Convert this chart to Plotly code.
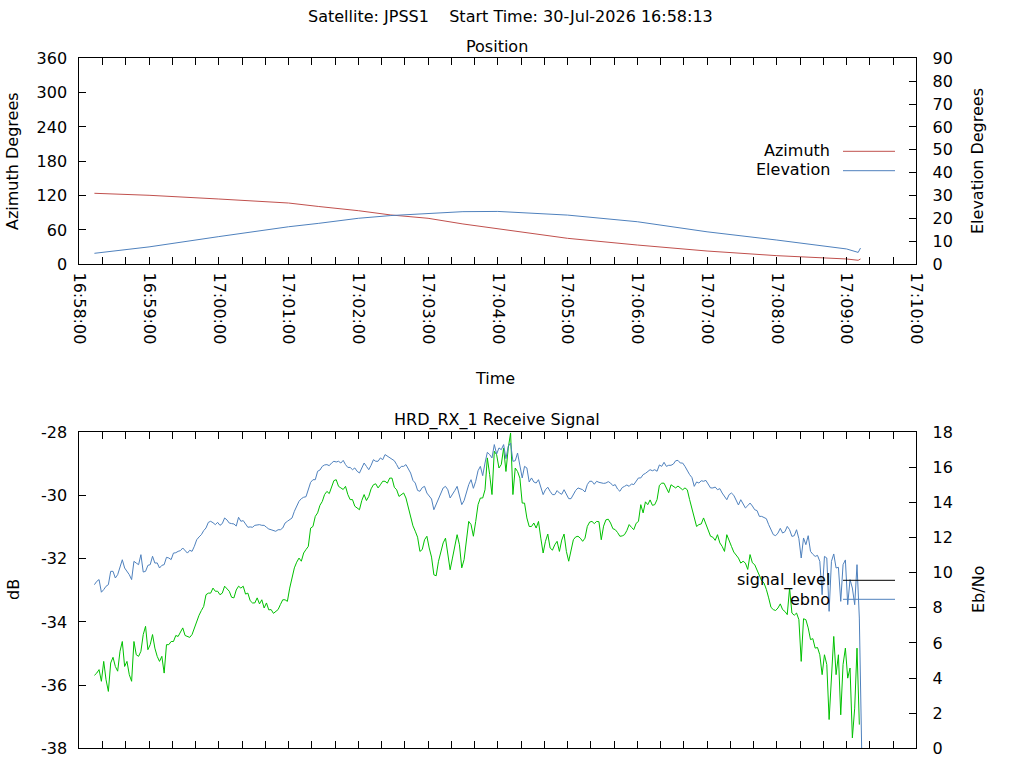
import pandas as pd
import plotly.graph_objects as go

# ---------------- data ----------------
pos_times = ["2026-07-30 16:58:13", "2026-07-30 16:59:00", "2026-07-30 17:00:00",
             "2026-07-30 17:01:00", "2026-07-30 17:01:26", "2026-07-30 17:02:00",
             "2026-07-30 17:02:28", "2026-07-30 17:03:00", "2026-07-30 17:03:30",
             "2026-07-30 17:04:00", "2026-07-30 17:05:00", "2026-07-30 17:06:00",
             "2026-07-30 17:07:00", "2026-07-30 17:08:00", "2026-07-30 17:09:00",
             "2026-07-30 17:09:10", "2026-07-30 17:09:12"]
azimuth = [124.1, 120.6, 114.1, 107.1, 101.0, 93.7, 86.2, 80.4, 70.5,
           61.7, 45.4, 33.7, 23.2, 15.1, 9.3, 7.0, 9.3]
elevation = [4.8, 7.6, 12.1, 16.4, 17.9, 20.1, 21.3, 22.3, 23.0,
             23.1, 21.5, 18.6, 14.2, 10.6, 6.7, 5.2, 7.1]

sig_start = "2026-07-30 16:58:13"
sig_step = "2s"
signal_level = [
    -35.69, -35.62, -35.51, -35.88, -35.25, -35.83, -36.20, -35.30, -35.12, -35.41,
    -35.56, -34.93, -34.62, -35.41, -35.25, -35.67, -35.88, -34.62, -35.04, -35.09,
    -34.93, -34.40, -34.14, -34.88, -34.72, -34.40, -34.83, -35.09, -35.25, -35.09,
    -35.62, -34.72, -34.72, -34.62, -34.62, -34.43, -34.46, -34.32, -34.19, -34.43,
    -34.46, -34.49, -34.40, -34.19, -33.96, -33.79, -33.64, -33.51, -33.14, -33.09,
    -33.09, -32.93, -33.03, -33.03, -33.14, -33.09, -32.87, -32.95, -33.03, -33.22,
    -33.24, -32.99, -32.87, -32.93, -32.87, -33.12, -33.09, -33.33, -33.40, -33.40,
    -33.24, -33.43, -33.30, -33.56, -33.40, -33.62, -33.61, -33.73, -33.67, -33.61,
    -33.45, -33.30, -33.30, -33.35,
    -32.93, -32.61, -32.29, -32.11, -31.98, -32.08, -31.82, -31.71, -31.61, -31.03,
    -30.98, -30.66, -30.55, -30.31, -30.19, -29.97, -29.87, -29.94, -29.76, -29.53,
    -29.50, -29.71, -29.76, -29.81, -29.71, -29.97, -30.13, -30.13, -30.34, -30.40,
    -30.45, -30.16, -29.97, -30.16, -30.03, -29.79, -29.66, -29.63, -29.76, -29.66,
    -29.55, -29.55, -29.61, -29.45, -29.45, -29.74, -29.82, -30.03, -29.97, -29.92,
    -30.08, -30.35, -30.66, -30.96, -31.13, -31.32, -31.77, -31.71, -31.40, -31.29,
    -31.66, -31.95, -32.51, -32.54, -32.08, -31.77, -31.50, -31.35, -31.87, -32.35,
    -31.98, -31.56, -31.24, -31.56, -32.29, -32.03, -31.45, -30.82, -30.92, -31.29,
    -30.82, -30.29, -30.08, -30.08,
    -29.82, -28.81, -29.34, -29.97, -28.60, -28.71, -29.13, -29.02, -28.50, -29.24,
    -28.50, -28.02, -29.97, -29.13, -29.24, -29.45, -30.24, -30.24, -30.71, -30.98,
    -30.98, -30.87, -31.03, -30.82, -31.35, -31.82, -31.45, -31.22, -31.66, -31.73,
    -31.56, -31.45, -31.77, -31.41, -31.22, -31.77, -32.08, -31.71, -31.40, -31.31,
    -31.29, -31.35, -31.45, -31.35, -30.98, -30.84, -30.82, -30.89, -30.82, -30.83,
    -31.40, -30.97, -30.77, -30.75, -30.87, -31.05, -31.08, -31.17, -31.29, -31.28,
    -31.24, -31.11, -30.92, -31.01, -31.08, -30.88, -30.82, -30.29, -30.55, -30.20,
    -30.29, -30.14, -30.31, -30.29, -30.13, -29.68, -29.61, -29.61, -29.76, -29.91,
    -29.66, -29.72, -29.76, -29.70,
    -29.76, -29.82, -29.76, -29.82, -30.13, -30.42, -30.77, -30.98, -30.92, -30.90,
    -30.71, -30.92, -31.08, -31.29, -31.32, -31.42, -31.24, -31.50, -31.61, -31.77,
    -31.24, -31.40, -31.61, -31.79, -31.87, -31.98, -32.14, -32.08, -32.14, -32.34,
    -31.87, -32.13, -32.19, -32.37, -32.56, -32.70, -32.77, -32.97, -33.24, -33.54,
    -33.61, -33.64, -33.56, -33.43, -33.61, -33.67, -33.77, -32.93, -33.72, -33.79,
    -33.72, -33.93, -35.25, -33.90, -33.93, -34.19, -34.56, -34.53, -34.83, -34.81,
    -35.04, -35.67, -35.04, -35.35, -37.09, -35.78, -34.46, -35.67, -35.04, -36.94,
    -35.35, -34.83, -35.78, -35.46, -37.67, -36.73, -34.83, -37.25,
]
ebno = [
    9.32, 9.51, 9.61, 8.89, 9.04, 9.23, 9.32, 10.08, 10.08, 9.70,
    9.89, 10.27, 10.74, 10.27, 10.08, 9.89, 9.61, 10.65, 10.55, 10.46,
    11.03, 10.04, 10.08, 10.42, 10.46, 10.94, 10.55, 10.56, 10.27, 10.42,
    10.46, 10.88, 10.84, 10.75, 11.12, 11.14, 11.22, 11.26, 11.41, 11.26,
    11.12, 11.28, 11.22, 11.51, 11.88, 12.04, 12.17, 12.40, 12.55, 12.87,
    12.93, 12.85, 12.74, 12.87, 12.70, 12.80, 13.12, 13.01, 12.83, 12.80,
    12.78, 12.66, 13.16, 12.93, 12.97, 12.78, 12.59, 12.61, 12.59, 12.70,
    12.74, 12.74, 12.70, 12.70, 12.59, 12.49, 12.45, 12.42, 12.36, 12.45,
    12.45, 12.55, 12.83, 12.93,
    13.02, 13.12, 13.50, 13.75, 14.07, 14.22, 14.30, 14.33, 14.73, 15.15,
    15.30, 15.30, 15.78, 15.85, 16.06, 16.14, 16.16, 16.10, 16.25, 16.35,
    16.31, 16.35, 16.25, 16.40, 16.16, 16.00, 16.00, 15.87, 15.97, 15.78,
    15.68, 15.97, 16.25, 16.06, 15.87, 16.12, 16.44, 16.35, 16.35, 16.54,
    16.44, 16.73, 16.63, 16.54, 16.44, 16.38, 16.16, 15.91, 16.06, 16.06,
    16.16, 15.91, 15.68, 15.26, 15.11, 14.69, 14.64, 14.85, 14.92, 14.54,
    14.35, 14.20, 13.59, 13.88, 14.16, 14.50, 14.83, 14.92, 14.73, 14.26,
    14.45, 14.68, 14.92, 14.31, 13.88, 14.11, 14.54, 15.02, 15.30, 14.81,
    15.21, 15.81, 16.06, 15.53,
    16.25, 16.86, 16.73, 16.54, 17.30, 16.76, 17.11, 17.01, 17.30, 16.50,
    17.20, 17.39, 16.35, 16.38, 16.82, 16.06, 15.40, 16.06, 15.97, 15.17,
    15.40, 15.17, 15.11, 15.30, 14.83, 14.45, 14.73, 14.87, 14.64, 14.45,
    14.45, 14.68, 14.54, 14.47, 14.73, 14.49, 14.22, 14.22, 14.45, 14.69,
    14.83, 14.77, 14.73, 14.60, 15.02, 15.21, 15.21, 15.04, 15.21, 15.15,
    15.11, 15.09, 15.11, 15.19, 15.11, 14.96, 15.02, 14.77, 14.64, 14.85,
    14.92, 15.00, 14.92, 15.06, 15.02, 15.19, 15.40, 15.40, 15.59, 15.66,
    15.78, 15.87, 15.81, 15.87, 15.78, 16.14, 16.06, 16.29, 16.06, 16.12,
    16.12, 16.19, 16.38, 16.40,
    16.25, 16.25, 16.06, 15.81, 15.59, 15.42, 14.92, 15.17, 15.11, 15.24,
    15.21, 15.26, 15.02, 14.83, 14.83, 14.88, 14.73, 14.79, 14.54, 14.37,
    14.16, 14.45, 14.54, 14.41, 14.16, 13.86, 14.16, 13.95, 13.69, 13.82,
    13.97, 13.80, 13.59, 13.54, 13.21, 13.21, 13.12, 13.08, 12.74, 12.45,
    12.17, 12.11, 12.26, 12.53, 12.26, 12.34, 12.64, 12.45, 12.07, 12.11,
    12.45, 11.94, 10.84, 11.98, 11.60, 12.11, 11.22, 11.05, 10.93, 10.99,
    10.65, 8.75, 10.93, 10.84, 7.80, 10.65, 11.07, 10.27, 10.31, 8.37,
    10.46, 10.73, 8.18, 9.61, 9.13, 8.18, 10.46, 7.42, 0.0,
]
sig_times = pd.date_range(sig_start, periods=len(ebno), freq=sig_step)

x_range = ["2026-07-30 16:58:00", "2026-07-30 17:10:00"]
db_ticks = [-38, -36, -34, -32, -30, -28]
db_labels = ["-38", "-36", "-34", "-32", "-30", "-28"]
main_title = "Satellite: JPSS1\u00a0\u00a0\u00a0\u00a0Start Time: 30-Jul-2026 16:58:13"

# ---------------- style ----------------
W, H = 1024, 768
FONT = "DejaVu Sans"
FS = 16
RED = "#c0504d"
BLUE = "#4f81bd"
GREEN = "#00c000"


def px(x):
    return x / W


def py(y):
    return 1 - y / H


L, R = 79.3, 916.3
T1, B1 = 58.3, 264.3
T2, B2 = 432.3, 748.3

fig = go.Figure()
fig.add_trace(go.Scatter(x=pos_times, y=azimuth, mode="lines", line=dict(color=RED, width=1),
                         xaxis="x", yaxis="y", showlegend=False))
fig.add_trace(go.Scatter(x=pos_times, y=elevation, mode="lines", line=dict(color=BLUE, width=1),
                         xaxis="x", yaxis="y2", showlegend=False))
fig.add_trace(go.Scatter(x=sig_times[:len(signal_level)], y=signal_level, mode="lines",
                         line=dict(color=GREEN, width=1),
                         xaxis="x2", yaxis="y3", showlegend=False))
fig.add_trace(go.Scatter(x=sig_times, y=ebno, mode="lines", line=dict(color=BLUE, width=1),
                         xaxis="x2", yaxis="y4", showlegend=False))

common_x = dict(type="date", range=x_range, dtick=60000, tick0=x_range[0],
                ticks="inside", ticklen=7, tickcolor="black", tickwidth=1,
                showline=True, linecolor="black", linewidth=1, mirror="allticks",
                showgrid=False, zeroline=False, automargin=False,
                minor=dict(dtick=20000, tick0=x_range[0], ticks="inside", ticklen=4,
                           tickcolor="black", showgrid=False),
                domain=[px(L), px(R)])
common_y = dict(ticks="inside", ticklen=7, tickcolor="black", tickwidth=1,
                showline=True, linecolor="black", linewidth=1, automargin=False,
                showgrid=False, zeroline=False)

fig.update_layout(
    width=W, height=H, autosize=False,
    margin=dict(l=0, r=0, t=0, b=0, pad=0),
    paper_bgcolor="white", plot_bgcolor="white",
    font=dict(family=FONT, size=FS, color="black"),
    showlegend=False,
    xaxis=dict(common_x, anchor="y", tickformat="%H:%M:%S", tickangle=90,
               ticklabelstandoff=4),
    xaxis2=dict(common_x, anchor="y3", showticklabels=False),
    yaxis=dict(common_y, domain=[py(B1), py(T1)], range=[0, 360], dtick=60, anchor="x",
               ticklabelstandoff=8),
    yaxis2=dict(common_y, range=[0, 90], dtick=10, anchor="x", overlaying="y", side="right",
                ticklabelstandoff=12),
    yaxis3=dict(common_y, domain=[py(B2), py(T2)], range=[-38, -28], anchor="x2",
                tickmode="array", tickvals=db_ticks, ticktext=db_labels,
                ticklabelstandoff=8),
    yaxis4=dict(common_y, range=[0, 18], dtick=2, anchor="x2", overlaying="y3", side="right",
                ticklabelstandoff=12),
)

ann = [
    dict(text=main_title, x=px(510), y=py(17)),
    dict(text="Position", x=px(497), y=py(46)),
    dict(text="HRD_RX_1 Receive Signal", x=px(497), y=py(420)),
    dict(text="Time", x=px(495), y=py(379)),
    dict(text="Azimuth Degrees", x=px(13), y=py(161), textangle=-90),
    dict(text="Elevation Degrees", x=px(978), y=py(161), textangle=-90),
    dict(text="dB", x=px(13), y=py(590), textangle=-90),
    dict(text="Eb/No", x=px(978), y=py(590), textangle=-90),
    dict(text="Azimuth", x=px(832), y=py(150.5), xanchor="right"),
    dict(text="Elevation", x=px(832), y=py(169.5), xanchor="right"),
    dict(text="signal_level", x=px(832), y=py(580), xanchor="right"),
    dict(text="ebno", x=px(832), y=py(599), xanchor="right"),
]
for a in ann:
    a.setdefault("xanchor", "center")
    fig.add_annotation(xref="paper", yref="paper", yanchor="middle", showarrow=False,
                       font=dict(family=FONT, size=FS, color="black"), **a)

legend_lines = [(151.3, RED), (170.7, BLUE), (580.3, "black"), (599.3, BLUE)]
for yy, col in legend_lines:
    fig.add_shape(type="line", xref="paper", yref="paper", x0=px(843), x1=px(895),
                  y0=py(yy), y1=py(yy), line=dict(color=col, width=1))

fig.write_html("out.html", config={"displayModeBar": False},
               post_script="document.body.style.margin='0';document.body.style.overflow='hidden';")
